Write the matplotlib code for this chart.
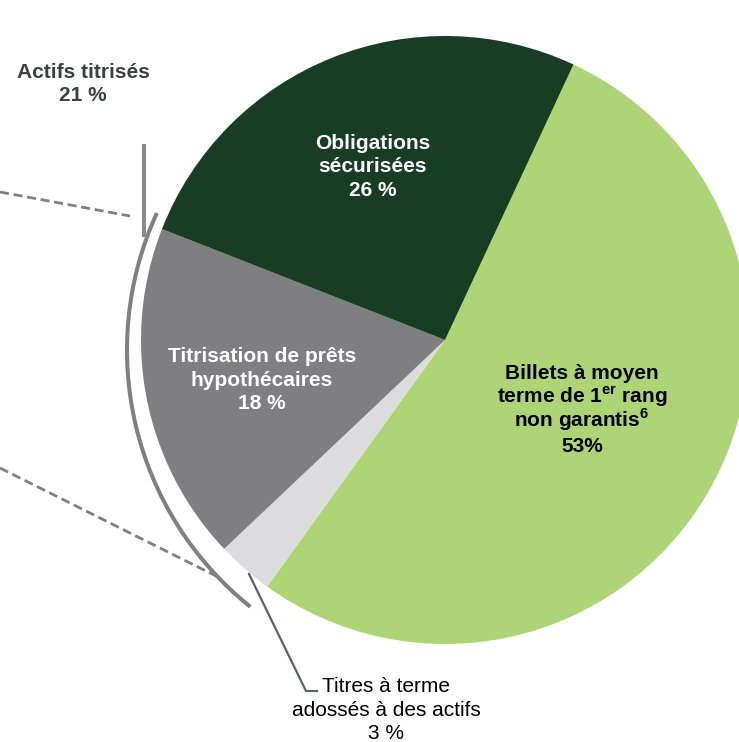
import matplotlib
matplotlib.use('Agg')
from matplotlib import pyplot as plt
import matplotlib.patches as patches

plt.rcParams['font.family'] = ['Liberation Sans', 'DejaVu Sans']
plt.rcParams['mathtext.fontset'] = 'custom'
plt.rcParams['mathtext.rm'] = 'Liberation Sans'
plt.rcParams['mathtext.bf'] = 'Liberation Sans:bold'

# data
categories = ['Billets à moyen terme de 1er rang non garantis',
              'Titres à terme adossés à des actifs',
              'Titrisation de prêts hypothécaires',
              'Obligations sécurisées']
shares = [53, 3, 18, 26]
colors = ['#ADD576', '#DCDCDE', '#7F7F81', '#173D23']
group_label = 'Actifs titrisés'
group_share = 21

W, H = 739, 742


def yp(y):
    # pixel row -> data y (y up)
    return H - y


fig = plt.figure(figsize=(W / 100, H / 100), dpi=100)
ax = fig.add_axes([0, 0, 1, 1])

ax.pie(shares, colors=colors, startangle=65, counterclock=False,
       center=(445, yp(340)), radius=304,
       wedgeprops=dict(linewidth=0))
ax.set_xlim(0, W)
ax.set_ylim(0, H)
ax.set_aspect('equal')
ax.axis('off')

# bracket arc for the securitized group
ax.add_patch(patches.Arc((456, yp(350)), 2 * 329, 2 * 329, theta1=155.4, theta2=231.3,
                         color='#808080', lw=2.9))
ax.plot([144, 144], [yp(144), yp(237)], color='#8a8a8a', lw=2.9, solid_capstyle='butt')
ax.plot([0, 130], [yp(192), yp(216)], color='#808080', lw=2.0, dashes=(3.25, 1.7))
ax.plot([0, 220], [yp(468), yp(578)], color='#808080', lw=2.0, dashes=(3.25, 1.7))

# leader for the small slice
ax.plot([249, 306, 317], [yp(574), yp(691), yp(691)], color='#59626B', lw=1.6)

fs = 15
ls = 1.28
ax.text(83, yp(84), f'{group_label}\n{group_share} %', ha='center', va='center',
        fontsize=fs, fontweight='bold', color='#3C4043', linespacing=ls)
ax.text(373, yp(167), f'Obligations\nsécurisées\n{shares[3]} %', ha='center', va='center',
        fontsize=fs, fontweight='bold', color='white', linespacing=ls)
ax.text(262, yp(380), f'Titrisation de prêts\nhypothécaires\n{shares[2]} %', ha='center',
        va='center', fontsize=fs, fontweight='bold', color='white', linespacing=ls)

billets_lines = ['Billets à moyen', 'terme de 1$^{\\mathbf{er}}$ rang',
                 'non garantis$^{\\mathbf{6}}$', f'{shares[0]}%']
for line, base in zip(billets_lines, [379, 403, 427, 452]):
    ax.text(582, yp(base), line, ha='center', va='baseline', fontsize=fs,
            fontweight='bold', color='black')

ax.text(386, yp(710), f'Titres à terme\nadossés à des actifs\n{shares[1]} %', ha='center',
        va='center', fontsize=fs, color='black', linespacing=ls)

fig.savefig('out.png', dpi=100)
